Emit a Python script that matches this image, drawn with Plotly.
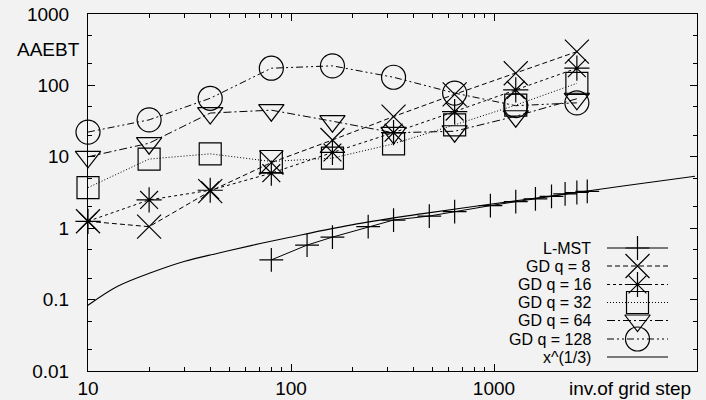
import plotly.graph_objects as go

# ---------------- data ----------------
gd_x = [10, 20, 40, 80, 160, 320, 640, 1280, 2560]
gd_q8 = [1.25, 1.05, 3.3, 8.3, 17.2, 36.6, 75, 148, 297]
gd_q16 = [1.25, 2.49, 3.4, 5.9, 11.5, 21.8, 43, 86.5, 174]
gd_q32 = [3.7, 9.3, 11.0, 8.6, 9.6, 15.2, 28, 53, 107]
gd_q64 = [10.0, 15.5, 41, 45, 31.5, 21.7, 22.8, 37, 65]
gd_q128 = [22.2, 32.9, 66, 174, 188, 130, 78, 52, 57]

lmst_x = [80, 120, 160, 240, 320, 480, 640, 960, 1280, 1600, 1920, 2240, 2560, 2880]
lmst_y = [0.36, 0.58, 0.75, 1.05, 1.30, 1.48, 1.71, 2.07, 2.35, 2.57, 2.79, 3.02, 3.16, 3.28]

cube_x = [10, 14, 20.7, 30, 43.7, 64.3, 98.9, 211, 447, 955, 2042, 4315, 9772]
cube_y = [0.0835, 0.154, 0.242, 0.345, 0.447, 0.575, 0.748, 1.15, 1.60, 2.16, 2.90, 3.89, 5.35]

series_names = ["L-MST", "GD q = 8", "GD q = 16", "GD q = 32", "GD q = 64", "GD q = 128", "x^(1/3)"]

x_ticks = [10, 100, 1000]
x_ticktext = ["10", "100", "1000"]
x_minor = [20, 30, 40, 50, 60, 70, 80, 90, 200, 300, 400, 500, 600, 700, 800, 900]
y_ticks = [0.01, 0.1, 1, 10, 100, 1000]
y_ticktext = ["0.01", "0.1", "1", "10", "100", "1000"]
y_minor = [0.02, 0.05, 0.2, 0.5, 2, 5, 20, 50, 200, 500]

# ---------------- styling ----------------
W, H = 706, 400
L, R, T, B = 88, 9, 14, 29
FONT = "Liberation Sans"
FS = 19
LEG_FS = 16
BG = "#f2f2f2"

styles = [
    dict(dash="solid", symbol="cross-thin", size=17),
    dict(dash="5px,3px", symbol="x-thin", size=24),
    dict(dash="3px,3px", symbol="asterisk", size=21),
    dict(dash="1px,2px", symbol="square-open", size=22),
    dict(dash="8px,3px,2px,3px", symbol="triangle-down-open", size=22),
    dict(dash="7px,3px,2px,3px,2px,3px", symbol="circle-open", size=24),
    dict(dash="solid", symbol=None, size=0),
]

series = [
    (lmst_x, lmst_y),
    (gd_x, gd_q8),
    (gd_x, gd_q16),
    (gd_x, gd_q32),
    (gd_x, gd_q64),
    (gd_x, gd_q128),
    (cube_x, cube_y),
]

fig = go.Figure()

for i, ((xs, ys), st) in enumerate(zip(series, styles)):
    if st["symbol"] is None:
        fig.add_trace(go.Scatter(
            x=xs, y=ys, mode="lines", line=dict(color="black", width=1.1, shape="spline"),
            showlegend=False, name=series_names[i]))
    else:
        fig.add_trace(go.Scatter(
            x=xs, y=ys, mode="lines+markers",
            line=dict(color="black", width=1, dash=st["dash"]),
            marker=dict(symbol=st["symbol"], size=st["size"], color="black",
                        line=dict(color="black", width=1.2)),
            showlegend=False, name=series_names[i], cliponaxis=False))

# ---------------- custom gnuplot-style legend (pixel overlay axes) ----------------
leg_rows = [248, 266, 284.5, 302.5, 320.5, 339, 357]
leg_x0, leg_xm, leg_x1 = 607, 637.5, 668
for i, st in enumerate(styles):
    yy = leg_rows[i]
    fig.add_trace(go.Scatter(
        x=[leg_x0, leg_x1], y=[yy, yy], mode="lines",
        line=dict(color="black", width=1, dash=st["dash"]),
        xaxis="x2", yaxis="y2", showlegend=False, hoverinfo="skip"))
    if st["symbol"] is not None:
        fig.add_trace(go.Scatter(
            x=[leg_xm], y=[yy], mode="markers",
            marker=dict(symbol=st["symbol"], size=st["size"], color="black",
                        line=dict(color="black", width=1.2)),
            xaxis="x2", yaxis="y2", showlegend=False, hoverinfo="skip", cliponaxis=False))
    fig.add_annotation(x=592, y=yy, xref="x2", yref="y2", text=series_names[i],
                       showarrow=False, xanchor="right", yanchor="middle", borderpad=0,
                       font=dict(family=FONT, size=LEG_FS, color="black"))


def px2paper(px, py):
    return (px - L) / (W - L - R), (H - B - py) / (H - T - B)


ax, ay = px2paper(82, 50)
fig.add_annotation(x=ax, y=ay, xref="paper", yref="paper", text="AAEBT", showarrow=False,
                   xanchor="right", yanchor="middle", font=dict(family=FONT, size=FS, color="black"))
bx, by = px2paper(630, 388)
fig.add_annotation(x=bx, y=by, xref="paper", yref="paper", text="inv.of grid step", showarrow=False,
                   xanchor="center", yanchor="middle", borderpad=0,
                   font=dict(family=FONT, size=FS, color="black"))

fig.update_layout(
    width=W, height=H,
    margin=dict(l=L, r=R, t=T, b=B, pad=0, autoexpand=False),
    paper_bgcolor=BG, plot_bgcolor=BG,
    font=dict(family=FONT, size=FS, color="black"),
    showlegend=False,
    xaxis=dict(type="log", range=[1, 4], showgrid=False, zeroline=False, automargin=False,
               showline=True, linecolor="black", linewidth=1, mirror="ticks",
               ticks="inside", ticklen=7, tickcolor="black", tickwidth=1,
               tickvals=x_ticks, ticktext=x_ticktext, ticklabelstandoff=0,
               minor=dict(tickvals=x_minor, ticks="inside", ticklen=4, tickcolor="black", tickwidth=1)),
    yaxis=dict(type="log", range=[-2, 3], showgrid=False, zeroline=False, automargin=False,
               showline=True, linecolor="black", linewidth=1, mirror="ticks",
               ticks="inside", ticklen=7, tickcolor="black", tickwidth=1,
               tickvals=y_ticks, ticktext=y_ticktext, ticklabelstandoff=14,
               minor=dict(tickvals=y_minor, ticks="inside", ticklen=4, tickcolor="black", tickwidth=1)),
    xaxis2=dict(range=[L, W - R], overlaying="x", anchor="y2", visible=False, fixedrange=True),
    yaxis2=dict(range=[H - B, T], overlaying="y", anchor="x2", visible=False, fixedrange=True),
)

fig.write_html("out.html")
